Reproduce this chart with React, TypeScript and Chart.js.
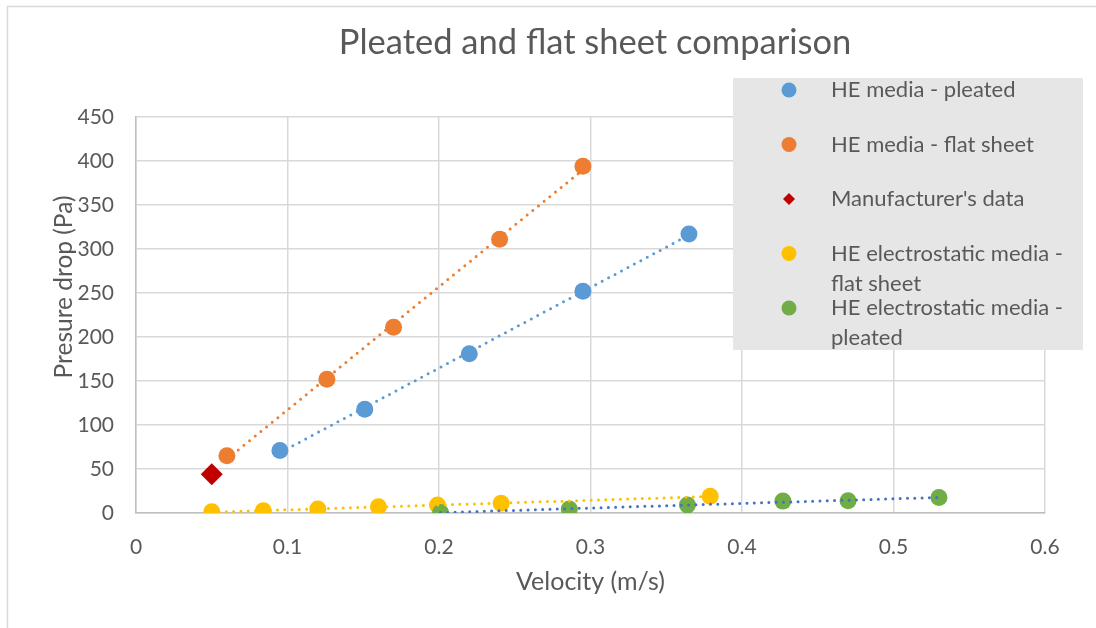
import React, { useEffect, useRef } from "react";
import { Chart, registerables } from "chart.js";

Chart.register(...registerables);

const TITLE = "Pleated and flat sheet comparison";
const X_TITLE = "Velocity (m/s)";
const Y_TITLE = "Presure drop (Pa)";

const heNames = ["HE media - pleated", "HE media - flat sheet", "Manufacturer's data", "HE electrostatic media - flat sheet", "HE electrostatic media - pleated"];

const pleatedX = [0.095, 0.151, 0.22, 0.295, 0.365];
const pleatedY = [71, 118, 181, 252, 317];

const flatX = [0.06, 0.126, 0.17, 0.24, 0.295];
const flatY = [65, 152, 211, 311, 394];

const manuX = [0.05];
const manuY = [44];

const esFlatX = [0.05, 0.084, 0.12, 0.16, 0.199, 0.241, 0.379];
const esFlatY = [1.5, 2.5, 4.5, 7, 9, 11, 19];

const esPleatX = [0.201, 0.286, 0.364, 0.427, 0.47, 0.53];
const esPleatY = [0.5, 4.5, 9, 13.5, 14, 17.5];

const colors = ["#5B9BD5", "#ED7D31", "#C00000", "#FFC000", "#70AD47"];
const trendColors = ["#5B9BD5", "#ED7D31", "", "#FFC000", "#4472C4"];

const FONT = "Lato, 'Open Sans', sans-serif";
const TEXT = "#595959";

function pts(xs: number[], ys: number[]) {
  return xs.map((x, i) => ({ x, y: ys[i] }));
}

function trend(xs: number[], ys: number[]) {
  const n = xs.length;
  const mx = xs.reduce((a, b) => a + b, 0) / n;
  const my = ys.reduce((a, b) => a + b, 0) / n;
  let sxy = 0, sxx = 0;
  for (let i = 0; i < n; i++) {
    sxy += (xs[i] - mx) * (ys[i] - my);
    sxx += (xs[i] - mx) * (xs[i] - mx);
  }
  const b = sxy / sxx;
  const a = my - b * mx;
  const x0 = Math.min(...xs), x1 = Math.max(...xs);
  return [{ x: x0, y: a + b * x0 }, { x: x1, y: a + b * x1 }];
}

const framePlugin = {
  id: "frame",
  beforeDraw(chart: any) {
    const ctx = chart.ctx;
    ctx.save();
    ctx.fillStyle = "#FFFFFF";
    ctx.fillRect(0, 0, chart.width, chart.height);
    ctx.strokeStyle = "#D9D9D9";
    ctx.lineWidth = 1.5;
    ctx.beginPath();
    ctx.moveTo(7.5, chart.height + 2);
    ctx.lineTo(7.5, 6.5);
    ctx.lineTo(chart.width + 2, 6.5);
    ctx.stroke();
    ctx.restore();
  },
  afterDraw(chart: any) {
    const ctx = chart.ctx;
    const area = chart.chartArea;
    ctx.save();
    // title
    ctx.fillStyle = TEXT;
    ctx.font = `34.5px ${FONT}`;
    ctx.textAlign = "center";
    ctx.textBaseline = "middle";
    ctx.fillText(TITLE, 595, 43);
    // axis titles
    ctx.font = `25px ${FONT}`;
    ctx.fillText(X_TITLE, (area.left + area.right) / 2, 582);
    ctx.font = `24.5px ${FONT}`;
    ctx.save();
    ctx.translate(64, 287);
    ctx.rotate(-Math.PI / 2);
    ctx.fillText(Y_TITLE, 0, 0);
    ctx.restore();

    // legend
    const bx = 733, by = 78, bw = 350, bh = 272;
    ctx.fillStyle = "#E6E6E6";
    ctx.fillRect(bx, by, bw, bh);
    ctx.font = `22px ${FONT}`;
    ctx.textAlign = "left";
    const maxW = 236;
    heNames.forEach((name, i) => {
      const cy = 90 + i * 54.5;
      const mx = 789;
      ctx.fillStyle = colors[i];
      ctx.beginPath();
      if (i === 2) {
        const r = 6;
        ctx.moveTo(mx, cy - r);
        ctx.lineTo(mx + r, cy);
        ctx.lineTo(mx, cy + r);
        ctx.lineTo(mx - r, cy);
        ctx.closePath();
      } else {
        ctx.arc(mx, cy, 7.5, 0, Math.PI * 2);
      }
      ctx.fill();
      // wrap
      const words = name.split(" ");
      const lines: string[] = [];
      let cur = "";
      words.forEach((w) => {
        const t = cur ? cur + " " + w : w;
        if (ctx.measureText(t).width > maxW && cur) {
          lines.push(cur);
          cur = w;
        } else cur = t;
      });
      if (cur) lines.push(cur);
      ctx.fillStyle = TEXT;
      lines.forEach((l, j) => ctx.fillText(l, 831, cy + j * 30));
    });
    ctx.restore();
  },
};

export default function App() {
  const ref = useRef<HTMLCanvasElement>(null);
  useEffect(() => {
    if (!ref.current) return;
    const series = [
      [pleatedX, pleatedY],
      [flatX, flatY],
      [manuX, manuY],
      [esFlatX, esFlatY],
      [esPleatX, esPleatY],
    ];
    const datasets: any[] = [];
    series.forEach(([xs, ys], i) => {
      datasets.push({
        type: "scatter",
        label: heNames[i],
        data: pts(xs, ys),
        backgroundColor: colors[i],
        borderColor: colors[i],
        pointStyle: i === 2 ? "rectRot" : "circle",
        pointRadius: i === 2 ? 11 : 8.5,
        pointBorderWidth: 0,
        showLine: false,
        order: -i,
      });
      if (trendColors[i]) {
        datasets.push({
          type: "line",
          label: heNames[i] + " trend",
          data: trend(xs, ys),
          borderColor: trendColors[i],
          borderWidth: 3,
          borderDash: [0, 7.3],
          borderCapStyle: "round",
          pointRadius: 0,
          fill: false,
          order: -10 - i,
        });
      }
    });
    const chart = new Chart(ref.current, {
      type: "scatter",
      data: { datasets },
      options: {
        responsive: false,
        animation: false,
        layout: { padding: { left: 0, top: 117, right: 51, bottom: 0 } },
        plugins: { legend: { display: false }, title: { display: false }, tooltip: { enabled: false } },
        scales: {
          x: {
            type: "linear",
            min: 0,
            max: 0.6,
            afterFit: (s: any) => { s.height = 115; },
            ticks: {
              stepSize: 0.1,
              color: TEXT,
              font: { family: FONT, size: 21 },
              padding: 22,
              callback: (v: any) => String(Number(Number(v).toFixed(1))),
            },
            grid: { color: "#D9D9D9", lineWidth: 1.5, drawTicks: false },
            border: { color: "#BFBFBF", width: 1.5 },
          },
          y: {
            type: "linear",
            min: 0,
            max: 450,
            afterFit: (s: any) => { s.width = 136; },
            ticks: {
              stepSize: 50,
              color: TEXT,
              font: { family: FONT, size: 21 },
              padding: 22,
            },
            grid: { color: "#D9D9D9", lineWidth: 1.5, drawTicks: false },
            border: { color: "#BFBFBF", width: 1.5 },
          },
        },
      },
      plugins: [framePlugin],
    } as any);
    return () => chart.destroy();
  }, []);
  return (
    <div style={{ position: "absolute", left: 0, top: 0, width: 1096, height: 628 }}>
      <canvas ref={ref} width={1096} height={628} style={{ display: "block" }} />
    </div>
  );
}
